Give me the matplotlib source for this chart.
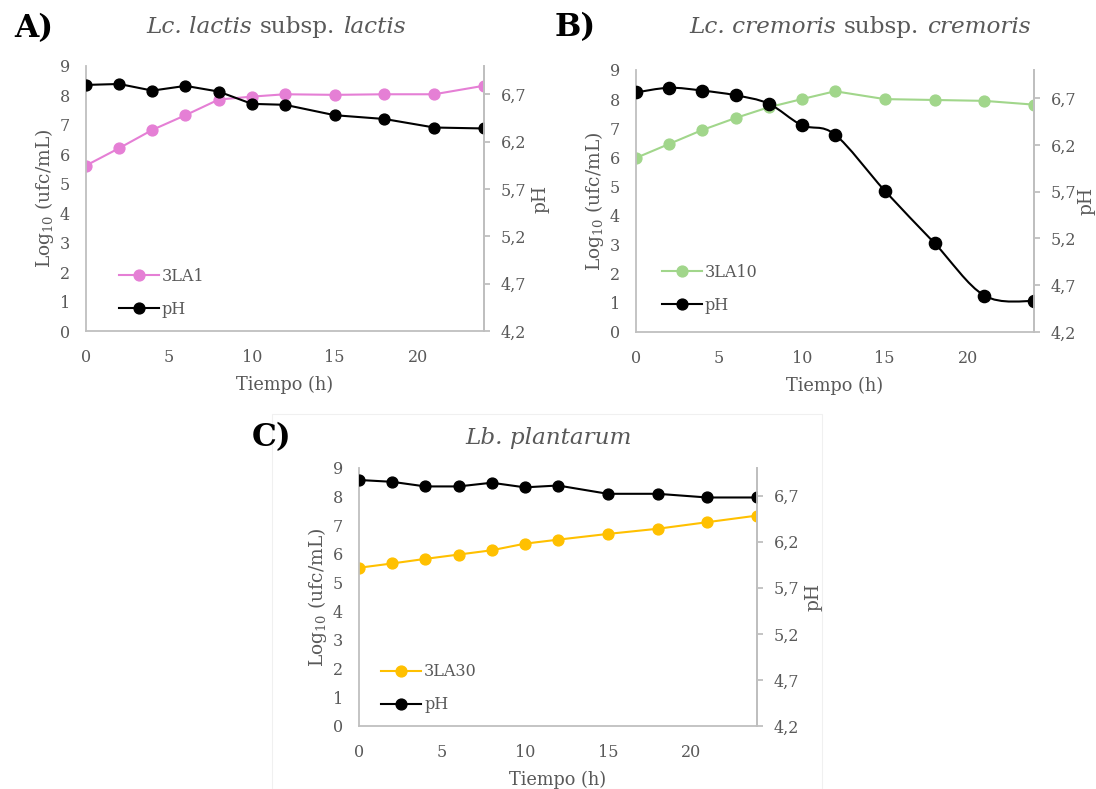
import numpy as np
import matplotlib
matplotlib.use("Agg")
import matplotlib.pyplot as plt
from matplotlib.path import Path
from matplotlib.patches import PathPatch
from matplotlib.lines import Line2D
from matplotlib.ticker import FixedLocator, FuncFormatter

plt.rcParams['font.family'] = ['DejaVu Serif']
plt.rcParams['mathtext.fontset'] = 'dejavuserif'

GRAY = '#595959'
SPINE = '#BFBFBF'

# data
hours = [0, 2, 4, 6, 8, 10, 12, 15, 18, 21, 24]
a_count = [5.62, 6.21, 6.83, 7.33, 7.86, 7.96, 8.04, 8.02, 8.04, 8.04, 8.33]
a_ph = [6.80, 6.81, 6.74, 6.79, 6.73, 6.60, 6.59, 6.48, 6.44, 6.35, 6.34]
b_count = [5.98, 6.46, 6.94, 7.35, 7.72, 8.00, 8.27, 8.00, 7.97, 7.94, 7.81]
b_ph = [6.76, 6.81, 6.78, 6.73, 6.64, 6.41, 6.31, 5.71, 5.15, 4.59, 4.53]
c_count = [5.52, 5.67, 5.83, 5.98, 6.13, 6.36, 6.50, 6.70, 6.88, 7.11, 7.34]
c_ph = [6.87, 6.85, 6.80, 6.80, 6.84, 6.79, 6.81, 6.72, 6.72, 6.68, 6.68]

strains = ['3LA1', '3LA10', '3LA30']
colors = ['#E57FD5', '#A1D68B', '#FFC000']
ph_ticks = [4.2, 4.7, 5.2, 5.7, 6.2, 6.7]
W, H = 1096, 789


def smooth_path(xs, ys):
    # excel-like smoothed line as cubic bezier segments
    pts = np.column_stack([xs, ys]).astype(float)
    n = len(pts)
    verts = [pts[0]]
    codes = [Path.MOVETO]
    for i in range(n - 1):
        p0 = pts[i - 1] if i > 0 else pts[i]
        p1, p2 = pts[i], pts[i + 1]
        p3 = pts[i + 2] if i + 2 < n else pts[i + 1]
        verts += [p1 + (p2 - p0) / 6, p2 - (p3 - p1) / 6, p2]
        codes += [Path.CURVE4] * 3
    return Path(verts, codes)


def panel(rect, count, ph, strain, color, leg_xy, smooth=False, ph_pad=4):
    ax = fig.add_axes(rect)
    ax2 = ax.twinx()
    ax.plot(hours, count, color=color, lw=1.5, marker='o', ms=7.8)
    if smooth:
        ax2.add_patch(PathPatch(smooth_path(hours, ph), fill=False, ec='black', lw=1.5))
        ax2.plot(hours, ph, ls='none', color='black', marker='o', ms=8.8)
    else:
        ax2.plot(hours, ph, color='black', lw=1.5, marker='o', ms=7.8)
    ax.set_xlim(0, 24)
    ax.set_ylim(0, 9)
    ax2.set_ylim(4.2, 7.0)
    ax.set_xticks([0, 5, 10, 15, 20])
    ax.set_yticks(range(10))
    ax2.yaxis.set_major_locator(FixedLocator(ph_ticks))
    ax2.yaxis.set_major_formatter(FuncFormatter(lambda v, p: ('%.1f' % v).replace('.', ',')))
    for a in (ax, ax2):
        for s in a.spines.values():
            s.set_color(SPINE)
            s.set_linewidth(1.3)
        a.spines['top'].set_visible(False)
    ax2.spines['left'].set_visible(False)
    ax2.spines['bottom'].set_visible(False)
    ax.tick_params(axis='x', length=0, labelsize=11.5, labelcolor=GRAY, pad=13)
    ax.tick_params(axis='y', length=0, labelsize=11.5, labelcolor=GRAY, pad=11.5)
    ax2.tick_params(axis='y', length=4, color=SPINE, width=1.3, labelsize=11.5,
                    labelcolor=GRAY, pad=8)
    ax.set_xlabel('Tiempo (h)', fontsize=12.8, color=GRAY, labelpad=7)
    ax.set_ylabel('Log$_{10}$ (ufc/mL)', fontsize=13.4, color=GRAY, labelpad=2.5)
    ax2.set_ylabel('pH', fontsize=13.4, color=GRAY, labelpad=ph_pad)
    handles = [Line2D([], [], color=color, lw=1.5, marker='o', ms=7.8),
               Line2D([], [], color='black', lw=1.5, marker='o', ms=7.8)]
    leg = ax.legend(handles, [strain, 'pH'], loc='lower left', bbox_to_anchor=leg_xy,
                    frameon=False, fontsize=11.5, handlelength=2.5, handletextpad=0.2,
                    labelspacing=1.0, borderpad=0, borderaxespad=0)
    for t in leg.get_texts():
        t.set_color(GRAY)
    return ax, ax2


def mixed_title(xc, yc, parts, size):
    r = fig.canvas.get_renderer()
    sp = fig.text(0, 0, 'a a', fontsize=size).get_window_extent(r).width
    sp -= fig.text(0, 0, 'aa', fontsize=size).get_window_extent(r).width
    for t in fig.texts[-2:]:
        t.remove()
    texts = [fig.text(0, 1 - yc / H, s, fontsize=size, style=st, color=GRAY,
                      va='center', ha='left') for s, st in parts]
    widths = [t.get_window_extent(r).width for t in texts]
    x = xc - (sum(widths) + sp * (len(parts) - 1)) / 2
    for t, w in zip(texts, widths):
        t.set_x(x / W)
        x += w + sp


def px_rect(l, r, t, b):
    return [l / W, 1 - b / H, (r - l) / W, (b - t) / H]


fig = plt.figure(figsize=(W / 100, H / 100), dpi=100)

# faint outline around panel C chart area
fig.patches.append(plt.Rectangle((272 / W, 0), (822 - 272) / W, 1 - 414 / H,
                                 transform=fig.transFigure, fill=False,
                                 ec='#F0F0F0', lw=0.8))

panel(px_rect(86, 484, 66, 331), a_count, a_ph, strains[0], colors[0], (0.082, 0.05))
panel(px_rect(636, 1034, 70, 332), b_count, b_ph, strains[1], colors[1], (0.065, 0.07),
      smooth=True, ph_pad=0.5)
panel(px_rect(359, 757, 468, 726), c_count, c_ph, strains[2], colors[2], (0.055, 0.05))

for lab, x, y in [('A)', 14, 29), ('B)', 555, 28), ('C)', 252, 438)]:
    fig.text(x / W, 1 - y / H, lab, fontsize=22.5, fontweight='bold', color='black',
             va='center', ha='left')

mixed_title(276, 27, [('Lc. lactis', 'italic'), ('subsp.', 'normal'), ('lactis', 'italic')], 16.7)
mixed_title(860, 27, [('Lc. cremoris', 'italic'), ('subsp.', 'normal'), ('cremoris', 'italic')], 16.7)
mixed_title(549, 438, [('Lb. plantarum', 'italic')], 16.7)

fig.savefig('out.png', dpi=100)
